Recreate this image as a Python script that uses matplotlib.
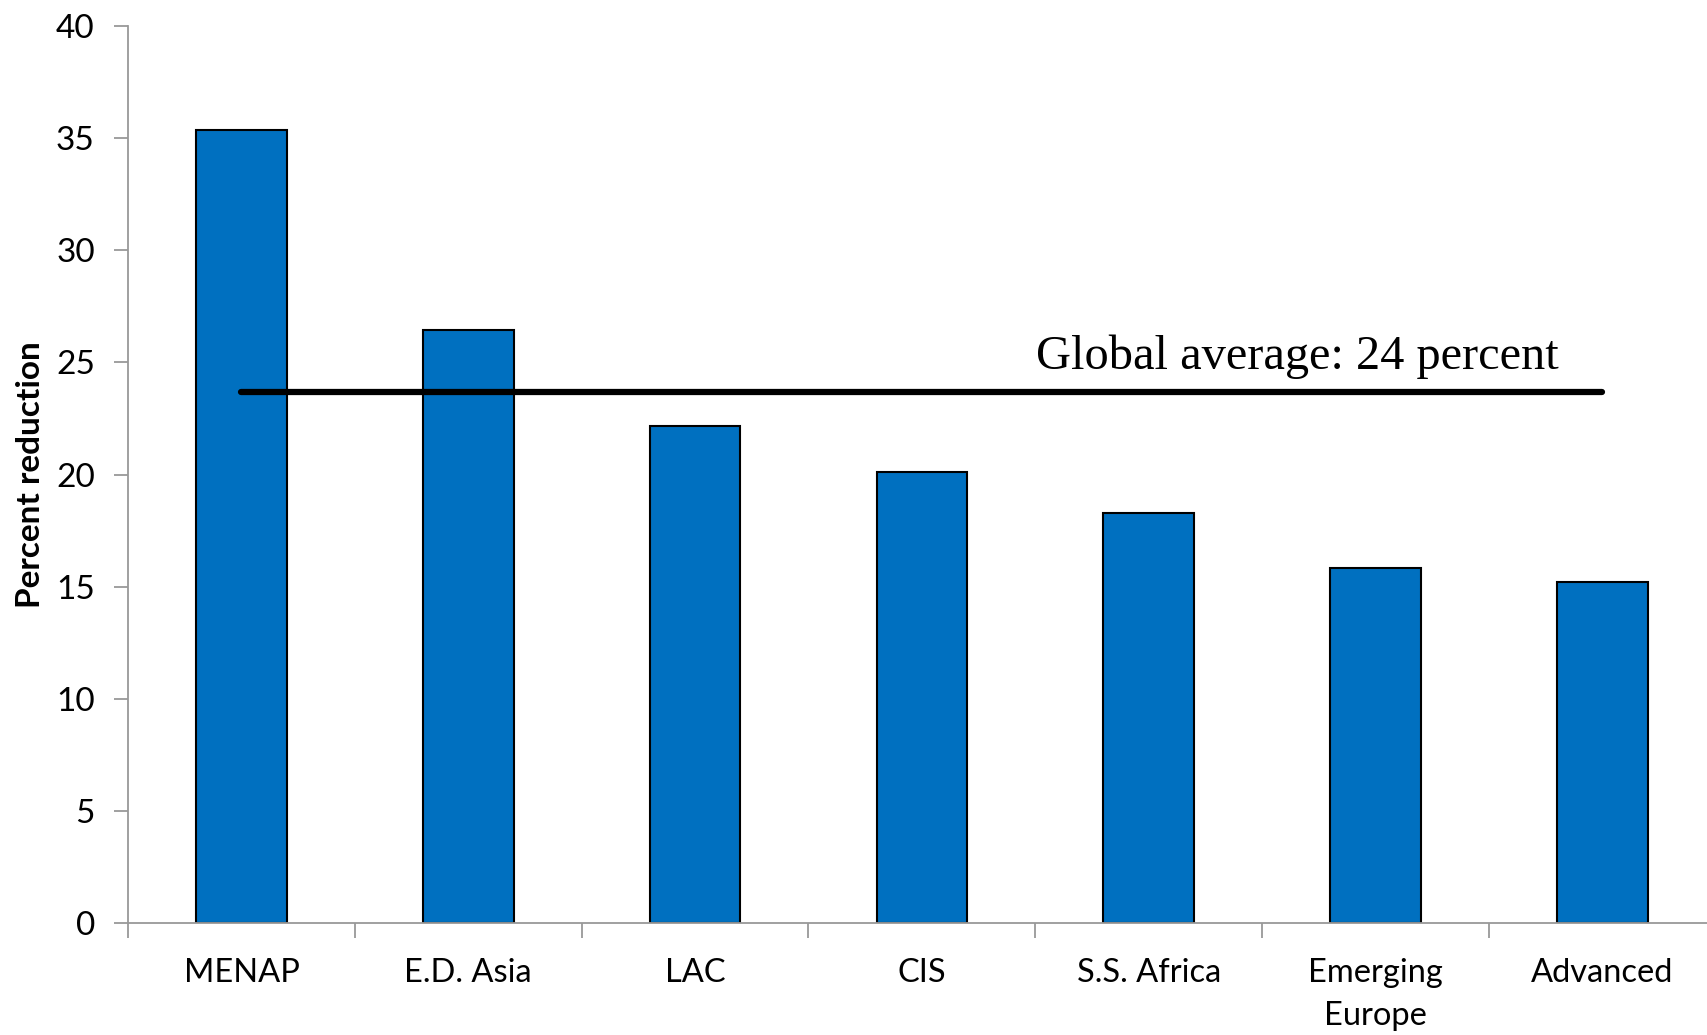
import matplotlib.pyplot as plt
import numpy as np

# reduction by region, percent
regions = ["MENAP", "E.D. Asia", "LAC", "CIS", "S.S. Africa", "Emerging\nEurope", "Advanced"]
reduction = [35.35, 26.45, 22.15, 20.1, 18.3, 15.85, 15.2]
global_avg = 23.7

plt.rcParams["font.family"] = ["Lato", "DejaVu Sans"]

fig = plt.figure(figsize=(17.08, 10.35), dpi=100)
ax = fig.add_axes([0.075, 0.108, 0.9295, 0.867])

x = np.arange(len(regions))
ax.bar(x, reduction, width=0.4, color="#0070C0", edgecolor="black", linewidth=1.5, zorder=2)

# global average line from first to last bar centre
ax.plot([x[0], x[-1]], [global_avg, global_avg], color="black", linewidth=4.5,
        solid_capstyle="round", zorder=3)
ax.text(4.655, 24.7, "Global average: 24 percent", ha="center", va="baseline",
        fontsize=34.8, family=["Liberation Serif", "DejaVu Serif"])

ax.set_xlim(-0.5, len(regions) - 0.5)
ax.set_ylim(0, 40)
ax.set_yticks(np.arange(0, 41, 5))
ax.set_xticks(x)
ax.set_xticklabels(regions, fontsize=23.5, linespacing=1.55)
ax.set_xticks(np.arange(-0.5, len(regions), 1), minor=True)
ax.tick_params(axis="x", which="major", length=0, pad=25)
ax.tick_params(axis="x", which="minor", length=11, width=1.3, color="#999999")
ax.tick_params(axis="y", length=10, width=1.3, color="#999999", labelsize=24, pad=14)

for side in ("top", "right"):
    ax.spines[side].set_visible(False)
for side in ("left", "bottom"):
    ax.spines[side].set_color("#999999")
    ax.spines[side].set_linewidth(1.3)

ax.set_ylabel("Percent reduction", fontsize=24, fontweight="bold", labelpad=8)

fig.savefig("out.png", dpi=100)
